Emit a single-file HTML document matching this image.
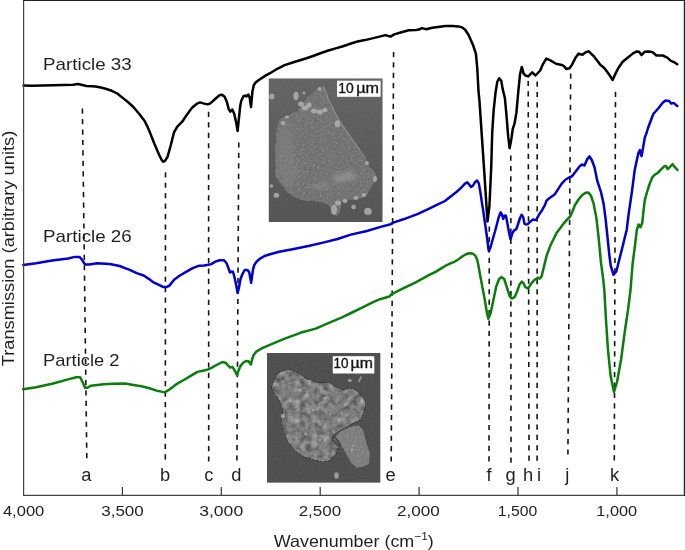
<!DOCTYPE html><html><head><meta charset="utf-8"><style>html,body{margin:0;padding:0;background:#fff;}svg{display:block;will-change:transform;}text{font-family:"Liberation Sans",sans-serif;}</style></head><body>
<svg width="685" height="550" viewBox="0 0 685 550">
<defs><filter id="bgn" x="0" y="0" width="100%" height="100%" color-interpolation-filters="sRGB"><feTurbulence type="fractalNoise" baseFrequency="0.5" numOctaves="2" seed="2" result="n"/><feColorMatrix in="n" type="matrix" values="0.33 0.33 0.33 0 0  0.33 0.33 0.33 0 0  0.33 0.33 0.33 0 0  0 0 0 0 1" result="g"/><feComposite in="g" in2="SourceAlpha" operator="in" result="gc"/><feComposite in="SourceGraphic" in2="gc" operator="arithmetic" k1="0" k2="1" k3="0.08" k4="-0.04"/></filter><filter id="ptn" x="0" y="0" width="100%" height="100%" color-interpolation-filters="sRGB"><feTurbulence type="fractalNoise" baseFrequency="0.45" numOctaves="2" seed="7" result="n"/><feColorMatrix in="n" type="matrix" values="0.33 0.33 0.33 0 0  0.33 0.33 0.33 0 0  0.33 0.33 0.33 0 0  0 0 0 0 1" result="g"/><feComposite in="g" in2="SourceAlpha" operator="in" result="gc"/><feComposite in="SourceGraphic" in2="gc" operator="arithmetic" k1="0" k2="1" k3="0.22" k4="-0.11"/></filter><filter id="ptn2" x="0" y="0" width="100%" height="100%" color-interpolation-filters="sRGB"><feTurbulence type="fractalNoise" baseFrequency="0.17" numOctaves="4" seed="11" result="n"/><feColorMatrix in="n" type="matrix" values="0.33 0.33 0.33 0 0  0.33 0.33 0.33 0 0  0.33 0.33 0.33 0 0  0 0 0 0 1" result="g"/><feComposite in="g" in2="SourceAlpha" operator="in" result="gc"/><feComposite in="SourceGraphic" in2="gc" operator="arithmetic" k1="0" k2="1" k3="0.75" k4="-0.375"/></filter><filter id="spk" x="0" y="0" width="100%" height="100%" color-interpolation-filters="sRGB"><feTurbulence type="fractalNoise" baseFrequency="0.55" numOctaves="1" seed="21" result="n"/><feColorMatrix in="n" type="matrix" values="0 0 0 0 0.75  0 0 0 0 0.75  0 0 0 0 0.75  1 0 0 0 0" result="w"/><feComponentTransfer in="w" result="wa"><feFuncA type="linear" slope="6" intercept="-3.6"/></feComponentTransfer><feComposite in="wa" in2="SourceAlpha" operator="in"/></filter><filter id="bl" x="-20%" y="-20%" width="140%" height="140%"><feGaussianBlur stdDeviation="2"/></filter><filter id="bl2" x="-50%" y="-50%" width="200%" height="200%"><feGaussianBlur stdDeviation="0.6"/></filter></defs>
<g>
<defs><linearGradient id="g1" x1="0" y1="0" x2="0" y2="1"><stop offset="0" stop-color="#656565"/><stop offset="1" stop-color="#555555"/></linearGradient></defs>
<rect x="268.8" y="78.5" width="113.7" height="143.5" fill="url(#g1)" filter="url(#bgn)"/>
<path d="M276.5,126.4 L278.5,120.0 L281.1,117.3 L290.3,114.0 L298.1,109.4 L303.0,104.0 L306.0,97.6 L314.0,91.0 L323.0,85.9 L325.6,91.1 L328.2,98.9 L332.1,106.8 L336.1,114.6 L340.0,121.2 L345.5,129.5 L355.0,143.2 L360.5,150.5 L362.0,150.0 L365.4,155.0 L367.0,160.1 L369.6,165.9 L373.8,170.1 L377.1,176.0 L375.4,180.2 L372.1,186.9 L367.9,193.6 L362.0,198.7 L355.3,199.5 L348.6,200.4 L341.9,202.0 L340.2,212.1 L336.8,217.1 L333.5,213.8 L328.4,205.4 L323.4,202.9 L311.6,201.2 L301.6,200.4 L293.2,197.0 L286.5,192.0 L281.4,185.3 L276.4,178.5 L274.7,175.2 L274.7,150.0 Z" fill="#747474" filter="url(#ptn)"/>
<path d="M276.5,126.4 L278.5,120.0 L281.1,117.3 L290.3,114.0 L298.1,109.4 L303.0,104.0 L306.0,97.6 L314.0,91.0 L323.0,85.9 L325.6,91.1 L328.2,98.9 L332.1,106.8 L336.1,114.6 L340.0,121.2 L345.5,129.5 L355.0,143.2 L360.5,150.5 L362.0,150.0 L365.4,155.0 L367.0,160.1 L369.6,165.9 L373.8,170.1 L377.1,176.0 L375.4,180.2 L372.1,186.9 L367.9,193.6 L362.0,198.7 L355.3,199.5 L348.6,200.4 L341.9,202.0 L340.2,212.1 L336.8,217.1 L333.5,213.8 L328.4,205.4 L323.4,202.9 L311.6,201.2 L301.6,200.4 L293.2,197.0 L286.5,192.0 L281.4,185.3 L276.4,178.5 L274.7,175.2 L274.7,150.0 Z" fill="#000" filter="url(#spk)" opacity="0.3"/>
<g filter="url(#bl)"><path d="M278,132 L288,124 L294,150 L298,175 L290,188 L281,182 L278,170 Z" fill="#8c8c8c" opacity="0.35"/><path d="M332,176 L352,171 L357,178 L336,183 Z" fill="#a0a0a0" opacity="0.6"/><path d="M312,186 L326,181 L329,186 L315,190 Z" fill="#9a9a9a" opacity="0.5"/></g>
<polyline points="323,85.9 325.6,91.1 328.2,98.9 332.1,106.8 336.1,114.6 340,121.2 345.5,129.5 355,143.2 360.5,150.5" fill="none" stroke="#9c9c9c" stroke-width="1.1" opacity="0.8"/>
<g filter="url(#bl2)">
<ellipse cx="301" cy="104" rx="3" ry="2.6" fill="#b4b4b4" opacity="0.8"/>
<ellipse cx="305" cy="108" rx="3.5" ry="2.4" fill="#b4b4b4" opacity="0.8"/>
<ellipse cx="309" cy="105" rx="2.6" ry="2.6" fill="#b4b4b4" opacity="0.8"/>
<ellipse cx="296" cy="96" rx="2.6" ry="4.2" fill="#b4b4b4" opacity="0.8"/>
<ellipse cx="314" cy="111" rx="3" ry="2.5" fill="#b4b4b4" opacity="0.8"/>
<ellipse cx="320" cy="112" rx="3.2" ry="2.4" fill="#b4b4b4" opacity="0.8"/>
<ellipse cx="325" cy="110" rx="2.5" ry="2.2" fill="#b4b4b4" opacity="0.8"/>
<ellipse cx="271.8" cy="96.6" rx="2.6" ry="3" fill="#b4b4b4" opacity="0.8"/>
<ellipse cx="337.4" cy="123.8" rx="2.8" ry="3.5" fill="#b4b4b4" opacity="0.8"/>
<ellipse cx="283" cy="123" rx="2.5" ry="2" fill="#b4b4b4" opacity="0.8"/>
<ellipse cx="304" cy="93" rx="1.5" ry="1.5" fill="#b4b4b4" opacity="0.8"/>
<ellipse cx="287" cy="117" rx="2" ry="1.5" fill="#b4b4b4" opacity="0.8"/>
<ellipse cx="367.9" cy="211.3" rx="3.8" ry="3.6" fill="#b4b4b4" opacity="0.8"/>
<ellipse cx="353.6" cy="207" rx="2.4" ry="2.2" fill="#b4b4b4" opacity="0.8"/>
<ellipse cx="276.4" cy="195.3" rx="2.8" ry="2.5" fill="#b4b4b4" opacity="0.8"/>
<ellipse cx="271.4" cy="186" rx="1.8" ry="1.8" fill="#b4b4b4" opacity="0.8"/>
<ellipse cx="334" cy="210" rx="3" ry="5" fill="#b4b4b4" opacity="0.8"/>
<ellipse cx="338" cy="203" rx="3" ry="2.5" fill="#b4b4b4" opacity="0.8"/>
<ellipse cx="345" cy="201" rx="2.5" ry="2" fill="#b4b4b4" opacity="0.8"/>
<ellipse cx="356" cy="198" rx="2.5" ry="2" fill="#b4b4b4" opacity="0.8"/>
<ellipse cx="364" cy="195" rx="2.5" ry="2" fill="#b4b4b4" opacity="0.8"/>
<ellipse cx="375" cy="179" rx="2" ry="3" fill="#b4b4b4" opacity="0.8"/>
<ellipse cx="367" cy="163" rx="2" ry="2" fill="#b4b4b4" opacity="0.8"/>
<ellipse cx="319.5" cy="89" rx="2" ry="2" fill="#b4b4b4" opacity="0.8"/>
</g>
<rect x="337" y="80.7" width="43.6" height="16.1" fill="#fff"/>
<text x="338.3" y="92.6" font-size="14.4" fill="#111" stroke="#111" stroke-width="0.35" textLength="15.4" lengthAdjust="spacingAndGlyphs">10</text>
<text x="356.2" y="92.6" font-size="14.4" fill="#111" stroke="#111" stroke-width="0.35" textLength="22.8" lengthAdjust="spacingAndGlyphs">µm</text>
</g>
<g>
<rect x="267" y="353" width="113.3" height="129.6" fill="#505050" filter="url(#bgn)"/>
<path d="M271.0,388.1 L273.6,381.4 L277.8,373.8 L282.8,370.5 L291.2,369.6 L299.6,373.8 L306.3,378.9 L313.0,380.5 L316.4,383.1 L321.4,382.2 L329.8,383.1 L336.5,387.3 L343.2,389.8 L349.9,388.1 L356.6,390.6 L361.7,395.6 L365.0,400.7 L365.9,405.7 L364.2,410.8 L361.7,417.5 L361.7,420.0 L356.6,421.8 L346.6,426.8 L338.2,431.8 L333.1,435.2 L332.0,440.0 L334.8,443.6 L338.2,446.9 L336.5,453.6 L329.8,460.4 L323.1,462.0 L313.0,459.5 L302.9,456.2 L294.5,450.3 L287.8,441.9 L282.8,430.1 L281.1,423.4 L282.8,410.0 L279.0,400.0 L274.0,393.0 Z" fill="#7e7e7e" filter="url(#ptn2)"/>
<path d="M333.1,438.5 L339.9,431.8 L349.9,426.8 L358.3,425.1 L363.4,430.1 L366.7,443.6 L370.1,453.6 L369.2,463.7 L363.4,467.1 L356.6,467.9 L351.6,463.7 L346.6,455.3 L343.2,448.6 L338.2,443.6 Z" fill="#808080" filter="url(#ptn)"/>
<polyline points="333.5,436 338,441 341,446" fill="none" stroke="#3e3e3e" stroke-width="1.5"/>
<g filter="url(#bl2)">
<ellipse cx="349.9" cy="380.5" rx="2" ry="1.6" fill="#a8a8a8" opacity="0.85"/>
<ellipse cx="283" cy="416" rx="2.2" ry="2.2" fill="#a8a8a8" opacity="0.85"/>
<ellipse cx="336.5" cy="475.5" rx="2.2" ry="3.2" fill="#a8a8a8" opacity="0.85"/>
<ellipse cx="352" cy="450" rx="1.2" ry="1.5" fill="#a8a8a8" opacity="0.85"/>
<ellipse cx="353" cy="446" rx="1" ry="1" fill="#a8a8a8" opacity="0.85"/>
<ellipse cx="313" cy="410" rx="1.5" ry="1.5" fill="#a8a8a8" opacity="0.85"/>
<ellipse cx="300" cy="390" rx="1.8" ry="1.5" fill="#a8a8a8" opacity="0.85"/>
<ellipse cx="290" cy="400" rx="1.5" ry="1.5" fill="#a8a8a8" opacity="0.85"/>
<ellipse cx="320" cy="440" rx="1.5" ry="1.5" fill="#a8a8a8" opacity="0.85"/>
<ellipse cx="306" cy="434" rx="1.2" ry="1.2" fill="#a8a8a8" opacity="0.85"/>
<ellipse cx="325" cy="398" rx="1.5" ry="1.5" fill="#a8a8a8" opacity="0.85"/>
<ellipse cx="345" cy="405" rx="1.5" ry="1.5" fill="#a8a8a8" opacity="0.85"/>
</g>
<line x1="358.5" y1="382" x2="361.5" y2="376.5" stroke="#8a8a8a" stroke-width="2"/>
<rect x="332.8" y="356.2" width="41.5" height="17.3" fill="#fff"/>
<text x="333.6" y="368.2" font-size="14.2" fill="#111" stroke="#111" stroke-width="0.35" textLength="15" lengthAdjust="spacingAndGlyphs">10</text>
<text x="350.6" y="368.2" font-size="14.2" fill="#111" stroke="#111" stroke-width="0.35" textLength="22.3" lengthAdjust="spacingAndGlyphs">µm</text>
</g>
<line x1="82.4" y1="108.6" x2="86.8" y2="458.2" stroke="#141414" stroke-width="1.6" stroke-dasharray="5.2 5.237"/>
<line x1="165.5" y1="172.2" x2="165.3" y2="459.4" stroke="#141414" stroke-width="1.6" stroke-dasharray="5.2 5.244"/>
<line x1="208.6" y1="111.8" x2="208.7" y2="461.6" stroke="#141414" stroke-width="1.6" stroke-dasharray="5.2 5.242"/>
<line x1="238.8" y1="142.4" x2="236.9" y2="460.6" stroke="#141414" stroke-width="1.6" stroke-dasharray="5.2 5.234"/>
<line x1="393.6" y1="52.0" x2="391.2" y2="461.6" stroke="#141414" stroke-width="1.6" stroke-dasharray="5.2 5.169"/>
<line x1="489.3" y1="226.5" x2="489.0" y2="461.4" stroke="#141414" stroke-width="1.6" stroke-dasharray="5.2 5.241"/>
<line x1="510.8" y1="155.5" x2="511.0" y2="462.8" stroke="#141414" stroke-width="1.6" stroke-dasharray="5.2 5.217"/>
<line x1="528.2" y1="80.9" x2="529.0" y2="460.8" stroke="#141414" stroke-width="1.6" stroke-dasharray="5.2 5.208"/>
<line x1="537.2" y1="81.5" x2="537.1" y2="460.8" stroke="#141414" stroke-width="1.6" stroke-dasharray="5.2 5.192"/>
<line x1="570.7" y1="73.5" x2="567.9" y2="454.6" stroke="#141414" stroke-width="1.6" stroke-dasharray="5.2 5.242"/>
<line x1="615.5" y1="91.7" x2="614.3" y2="460.4" stroke="#141414" stroke-width="1.6" stroke-dasharray="5.2 5.186"/>
<polyline points="23.2,389.3 36.1,387.3 52.1,383.7 68.2,379.4 76.2,377.3 80.2,377.3 82.6,382.1 85.0,387.7 87.4,387.7 90.7,385.7 103.5,384.2 113.1,383.7 125.0,383.6 132.0,384.8 141.4,386.3 149.5,388.3 156.5,390.6 164.7,392.4 169.4,389.5 176.4,384.2 184.6,379.5 191.6,375.4 197.4,371.9 204.1,370.5 208.2,369.4 212.3,367.4 217.4,364.5 222.5,362.0 225.5,362.7 228.1,365.5 230.1,367.6 232.2,366.8 234.2,369.6 235.8,372.7 237.0,375.3 238.3,371.2 240.4,366.1 243.4,362.5 246.0,361.0 248.5,361.3 250.9,364.5 252.1,359.5 253.6,355.0 256.6,351.4 262.3,348.2 267.5,345.8 282.8,339.3 300.4,332.8 315.7,328.6 326.6,323.9 342.0,317.3 350.0,313.5 363.1,307.2 372.5,302.3 380.0,299.2 388.6,296.7 389.6,296.4 391.4,294.3 393.2,293.4 402.6,288.6 415.7,282.3 428.8,275.1 435.5,271.8 440.9,268.6 446.4,265.3 450.9,263.2 454.5,261.8 458.2,259.5 461.8,256.8 465.5,254.5 469.1,253.2 472.7,253.6 475.5,255.9 477.3,260.0 478.6,266.4 480.0,274.5 481.4,281.8 482.7,289.1 484.2,296.4 486.9,312.7 488.3,318.7 490.7,312.7 493.5,299.6 496.2,286.5 499.1,279.0 501.3,277.1 504.2,279.0 507.1,288.0 509.8,296.5 512.0,298.5 514.7,296.9 516.9,292.0 519.6,284.4 521.8,281.6 523.5,283.3 525.4,287.2 528.3,288.5 530.8,284.1 534.0,280.3 537.8,277.7 539.7,278.6 541.6,276.4 544.2,265.6 546.7,255.4 550.5,245.3 553.4,239.5 556.5,233.0 560.0,228.5 563.6,223.6 567.0,219.6 570.2,216.5 572.7,210.7 575.0,205.0 578.2,200.0 581.8,195.5 585.5,192.7 588.2,192.4 590.9,195.5 593.6,203.6 596.4,218.2 598.5,236.4 601.0,262.8 603.2,279.1 604.3,290.0 606.0,320.0 608.0,350.0 610.6,376.0 614.0,392.0 617.0,382.0 621.0,360.0 625.0,330.0 628.0,310.0 630.5,290.0 632.7,262.8 634.9,246.4 636.8,230.0 638.6,224.5 640.5,227.3 642.3,222.7 643.2,213.6 644.8,200.0 647.3,191.1 649.8,183.5 652.4,177.1 654.9,174.6 658.0,172.7 661.4,169.1 664.1,166.4 665.9,166.0 667.7,169.1 669.5,167.3 672.6,164.2 674.5,166.7 677.4,170.0" fill="none" stroke="#0a7d0a" stroke-width="2.5" stroke-linejoin="round" stroke-linecap="round"/>
<polyline points="23.2,264.9 36.1,263.3 52.1,260.6 68.2,258.5 74.6,256.9 79.4,256.9 81.8,259.3 85.0,264.4 89.1,264.4 97.1,263.3 109.9,264.1 119.6,266.0 125.0,268.1 129.7,269.9 136.7,273.1 143.7,275.5 148.4,278.6 153.0,282.1 158.9,284.8 163.5,287.1 166.5,287.1 169.4,285.6 174.1,279.8 179.9,275.5 185.7,272.2 192.7,268.1 198.6,265.8 204.1,265.5 208.2,264.8 211.2,264.1 215.3,261.6 219.5,260.2 223.8,260.2 226.5,263.0 228.4,268.0 230.0,272.5 231.6,271.5 233.0,271.7 234.4,277.0 236.0,284.0 237.6,293.0 238.9,288.0 240.5,279.0 242.5,274.0 244.7,270.0 247.6,270.0 249.3,272.5 250.2,277.5 251.1,282.7 252.0,276.7 253.1,269.0 254.3,265.2 256.0,262.4 258.0,260.3 261.0,258.1 264.6,256.0 270.0,254.2 279.2,251.8 293.8,248.9 308.4,246.0 323.0,242.6 337.6,239.0 350.8,234.6 366.9,231.0 381.5,226.6 388.8,224.8 391.0,224.1 393.2,222.6 403.4,219.3 418.0,213.9 429.7,208.3 438.4,204.2 445.0,201.0 450.7,196.5 455.8,192.6 460.9,188.0 465.0,183.6 467.2,182.4 469.1,184.4 471.1,187.0 473.1,185.4 475.2,181.9 477.0,180.5 478.8,183.4 480.3,191.6 481.8,201.8 483.4,212.0 485.6,227.3 487.3,239.5 488.5,249.4 488.9,251.0 490.5,247.5 493.8,235.5 495.0,231.5 496.6,225.5 498.7,217.2 500.7,212.3 502.0,214.7 503.2,218.8 504.8,215.5 506.0,216.0 507.3,222.9 508.9,231.9 510.5,239.3 512.6,232.7 514.2,230.3 516.3,229.1 517.9,224.5 520.0,218.0 521.6,214.7 523.2,217.2 524.5,223.7 526.1,224.5 527.7,224.1 530.2,221.7 532.6,219.6 535.1,220.0 536.7,219.2 539.2,214.3 542.1,210.2 545.0,204.9 546.6,200.5 550.4,197.4 554.9,194.2 558.1,189.1 561.9,183.4 565.7,179.5 568.2,178.0 571.8,176.4 575.5,171.8 579.1,166.9 581.8,164.5 584.5,165.5 587.3,159.1 589.5,156.4 591.8,160.0 594.5,167.3 597.3,180.9 600.9,191.8 603.6,203.6 605.5,218.2 607.6,238.0 609.2,254.0 610.8,266.0 613.6,274.8 616.3,271.5 618.5,262.8 621.8,249.7 625.0,236.6 626.7,230.0 628.5,215.0 630.7,200.0 632.0,191.1 633.3,181.0 634.6,170.8 636.5,161.8 638.4,152.9 639.9,150.1 640.9,154.2 641.6,156.1 642.5,151.0 643.5,145.3 644.8,137.6 646.7,132.5 648.0,128.0 650.0,122.7 653.3,114.0 658.2,108.5 662.7,102.7 665.5,100.5 669.1,101.0 671.3,103.6 673.6,102.9 677.3,106.0" fill="none" stroke="#0000cc" stroke-width="2.5" stroke-linejoin="round" stroke-linecap="round"/>
<polyline points="23.5,85.5 32.2,85.7 42.4,85.4 52.7,85.2 62.9,85.0 73.1,84.7 77.7,84.0 81.3,84.7 86.4,86.0 92.0,86.2 95.5,86.5 100.9,87.5 106.4,89.0 111.8,90.8 117.3,93.5 122.7,97.9 128.2,102.3 133.6,107.2 139.1,113.7 144.5,120.8 147.8,127.4 150.0,132.6 154.4,143.8 159.3,155.3 161.6,159.8 163.4,161.8 165.2,160.6 167.5,156.9 170.7,145.5 174.0,132.4 177.3,126.6 182.2,121.7 187.1,114.4 192.0,107.8 196.9,103.7 200.1,102.4 204.2,103.6 207.8,104.4 210.3,103.4 215.4,98.8 219.5,95.2 222.1,94.7 224.6,96.8 226.7,101.4 228.7,109.0 230.3,111.6 232.3,109.5 234.3,114.1 236.4,123.8 237.6,131.0 238.9,118.7 240.3,105.4 241.3,100.8 243.3,96.4 245.1,95.5 246.5,96.4 248.3,94.5 249.6,97.3 250.5,103.6 251.0,107.2 251.6,100.9 252.4,91.8 253.7,85.5 255.5,82.5 259.6,79.5 265.1,75.9 270.0,73.2 277.3,68.8 284.6,65.1 291.9,62.7 299.2,60.5 306.5,58.3 313.8,55.7 321.1,53.0 328.4,50.5 335.7,48.4 343.0,46.2 350.3,43.7 357.6,41.4 365.0,40.1 372.3,38.4 379.6,36.6 385.4,35.1 390.5,36.6 394.2,34.4 401.5,32.2 408.8,30.3 416.1,30.0 419.0,29.6 421.9,28.1 426.3,29.2 432.2,27.8 438.0,27.0 445.3,26.1 452.6,26.0 458.4,26.4 462.1,27.4 465.0,29.5 468.6,35.0 473.2,45.5 475.9,53.6 477.2,67.3 478.6,92.7 479.4,100.0 481.8,135.4 484.2,170.9 486.5,206.3 487.5,221.5 489.4,206.3 490.4,185.0 491.3,165.0 492.2,132.7 493.6,110.9 495.5,92.7 497.3,81.8 499.1,78.2 501.3,80.9 502.7,89.1 504.9,98.2 506.4,114.5 508.2,136.4 509.6,148.2 511.5,138.2 512.7,129.1 514.5,123.6 516.4,112.7 518.2,92.7 520.0,74.5 521.8,66.9 523.6,73.6 525.5,75.5 528.2,76.4 532.2,72.4 535.5,75.5 540.2,70.5 543.1,63.8 546.3,58.6 550.4,60.4 556.0,63.8 561.7,64.9 563.9,66.0 566.2,69.0 569.6,68.3 571.9,64.9 575.3,58.1 578.7,53.6 582.5,54.7 585.4,52.4 588.8,51.3 593.4,55.8 597.9,61.5 600.0,64.5 604.5,68.2 609.1,74.5 612.7,80.0 615.5,73.6 618.2,68.2 622.7,61.8 628.2,57.3 632.7,53.6 636.4,51.5 639.1,51.8 641.5,55.1 644.5,51.8 649.1,51.5 652.7,52.2 656.4,55.5 662.7,55.5 667.3,57.6 670.9,60.9 674.5,62.4 677.3,64.2" fill="none" stroke="#000" stroke-width="2.5" stroke-linejoin="round" stroke-linecap="round"/>
<line x1="23.6" y1="0" x2="23.6" y2="495.9" stroke="#444" stroke-width="1.2"/>
<line x1="23" y1="495.3" x2="685" y2="495.3" stroke="#444" stroke-width="1.2"/>
<line x1="23" y1="0.5" x2="685" y2="0.5" stroke="#222" stroke-width="1.2"/>
<line x1="684.4" y1="0" x2="684.4" y2="496" stroke="#222" stroke-width="1.2"/>
<line x1="122.4" y1="487" x2="122.4" y2="495" stroke="#333" stroke-width="1.2"/>
<line x1="221.3" y1="487" x2="221.3" y2="495" stroke="#333" stroke-width="1.2"/>
<line x1="320.2" y1="487" x2="320.2" y2="495" stroke="#333" stroke-width="1.2"/>
<line x1="419.1" y1="487" x2="419.1" y2="495" stroke="#333" stroke-width="1.2"/>
<line x1="518.0" y1="487" x2="518.0" y2="495" stroke="#333" stroke-width="1.2"/>
<line x1="616.9" y1="487" x2="616.9" y2="495" stroke="#333" stroke-width="1.2"/>
<text x="23.6" y="515.7" font-size="15.1" fill="#231f20" text-anchor="middle" textLength="41.4" lengthAdjust="spacingAndGlyphs">4,000</text>
<text x="122.5" y="515.7" font-size="15.1" fill="#231f20" text-anchor="middle" textLength="42.6" lengthAdjust="spacingAndGlyphs">3,500</text>
<text x="221.2" y="515.7" font-size="15.1" fill="#231f20" text-anchor="middle" textLength="44.0" lengthAdjust="spacingAndGlyphs">3,000</text>
<text x="319.9" y="515.7" font-size="15.1" fill="#231f20" text-anchor="middle" textLength="42.4" lengthAdjust="spacingAndGlyphs">2,500</text>
<text x="418.5" y="515.7" font-size="15.1" fill="#231f20" text-anchor="middle" textLength="42.8" lengthAdjust="spacingAndGlyphs">2,000</text>
<text x="517.5" y="515.7" font-size="15.1" fill="#231f20" text-anchor="middle" textLength="39.4" lengthAdjust="spacingAndGlyphs">1,500</text>
<text x="616.7" y="515.7" font-size="15.1" fill="#231f20" text-anchor="middle" textLength="40.8" lengthAdjust="spacingAndGlyphs">1,000</text>
<text x="86.4" y="480.5" font-size="18.3" fill="#231f20" text-anchor="middle">a</text>
<text x="165.1" y="480.5" font-size="18.3" fill="#231f20" text-anchor="middle">b</text>
<text x="208.9" y="480.5" font-size="18.3" fill="#231f20" text-anchor="middle">c</text>
<text x="236.4" y="480.5" font-size="18.3" fill="#231f20" text-anchor="middle">d</text>
<text x="390.6" y="480.5" font-size="18.3" fill="#231f20" text-anchor="middle">e</text>
<text x="489" y="480.5" font-size="18.3" fill="#231f20" text-anchor="middle">f</text>
<text x="510.5" y="480.5" font-size="18.3" fill="#231f20" text-anchor="middle">g</text>
<text x="528.1" y="480.5" font-size="18.3" fill="#231f20" text-anchor="middle">h</text>
<text x="539" y="480.5" font-size="18.3" fill="#231f20" text-anchor="middle">i</text>
<text x="567.3" y="480.5" font-size="18.3" fill="#231f20" text-anchor="middle">j</text>
<text x="614.5" y="480.5" font-size="18.3" fill="#231f20" text-anchor="middle">k</text>
<text x="43.1" y="69.6" font-size="16.2" fill="#231f20" textLength="88.6" lengthAdjust="spacingAndGlyphs">Particle 33</text>
<text x="43.1" y="242" font-size="16.2" fill="#231f20" textLength="88.6" lengthAdjust="spacingAndGlyphs">Particle 26</text>
<text x="43.1" y="365.6" font-size="16.2" fill="#231f20" textLength="76.4" lengthAdjust="spacingAndGlyphs">Particle 2</text>
<text x="273.8" y="546.6" font-size="16.5" fill="#231f20" textLength="160" lengthAdjust="spacingAndGlyphs">Wavenumber (cm<tspan font-size="11" dy="-7">−1</tspan><tspan dy="7">)</tspan></text>
<text transform="translate(13.7,366.3) rotate(-90)" x="0" y="0" font-size="17.4" fill="#231f20" textLength="235.5" lengthAdjust="spacingAndGlyphs">Transmission (arbitrary units)</text>
</svg></body></html>
